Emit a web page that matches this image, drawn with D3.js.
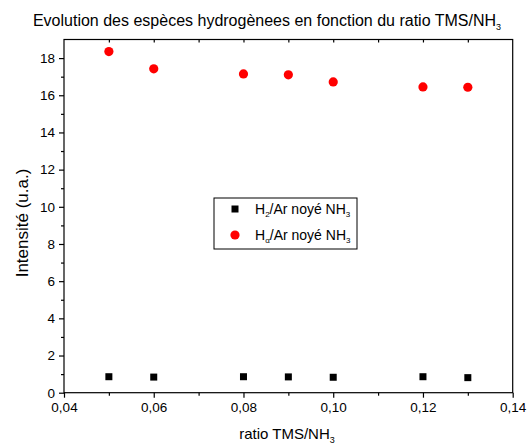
<!DOCTYPE html>
<html><head><meta charset="utf-8">
<script src="https://cdn.jsdelivr.net/npm/d3@7"></script>
<style>body{margin:0;background:#fff}svg{display:block;font-family:"Liberation Sans",Arial,sans-serif}</style>
</head><body>
<svg id="c" width="527" height="445"></svg>
<script>
const ratios = [0.05, 0.06, 0.08, 0.09, 0.10, 0.12, 0.13];
const h2Values = [0.86, 0.84, 0.86, 0.85, 0.83, 0.86, 0.81];
const halphaValues = [18.35, 17.42, 17.15, 17.1, 16.72, 16.45, 16.43];
const xTicks = [0.04, 0.06, 0.08, 0.10, 0.12, 0.14];
const yTicks = [0, 2, 4, 6, 8, 10, 12, 14, 16, 18];

const svg = d3.select("#c");
const m = {l: 64, r: 14.3, t: 39.5, b: 52.3};
const W = 527, H = 445;
const x = d3.scaleLinear().domain([0.04, 0.14]).range([m.l, W - m.r]);
const y = d3.scaleLinear().domain([0, 19]).range([H - m.b, m.t]);
const fmt = d => d3.format(".2f")(d).replace(".", ",");

// frame
svg.append("rect").attr("x", x(0.04)).attr("y", y(19)).attr("width", x(0.14) - x(0.04)).attr("height", y(0) - y(19))
  .attr("fill", "none").attr("stroke", "#000").attr("stroke-width", 1.2);

// bottom axis
const gx = svg.append("g").attr("transform", `translate(0,${y(0)})`)
  .call(d3.axisBottom(x).tickValues(xTicks).tickFormat(fmt).tickSize(5).tickPadding(5));
gx.select(".domain").remove();
gx.selectAll("text").attr("font-size", 13.5).attr("font-family", "Liberation Sans, Arial");
svg.append("g").attr("transform", `translate(0,${y(0)})`)
  .call(d3.axisBottom(x).tickValues(d3.range(0.05, 0.14, 0.02)).tickFormat("").tickSize(3))
  .select(".domain").remove();
// top inner ticks
svg.append("g").attr("transform", `translate(0,${y(19)})`)
  .call(d3.axisBottom(x).tickValues(d3.range(0.05, 0.135, 0.01)).tickFormat("").tickSize(3))
  .select(".domain").remove();

// left axis
const gy = svg.append("g").attr("transform", `translate(${x(0.04)},0)`)
  .call(d3.axisLeft(y).tickValues(yTicks).tickFormat(d3.format("d")).tickSize(5).tickPadding(4));
gy.select(".domain").remove();
gy.selectAll("text").attr("font-size", 13.5).attr("font-family", "Liberation Sans, Arial");
svg.append("g").attr("transform", `translate(${x(0.04)},0)`)
  .call(d3.axisLeft(y).tickValues(d3.range(1, 19, 2)).tickFormat("").tickSize(3))
  .select(".domain").remove();
svg.selectAll(".tick line").attr("stroke", "#000").attr("stroke-width", 1.2);

// data
svg.append("g").selectAll("rect").data(ratios).join("rect")
  .attr("x", (d) => x(d) - 3.5).attr("y", (d, i) => y(h2Values[i]) - 3.5)
  .attr("width", 7).attr("height", 7).attr("fill", "#000");
svg.append("g").selectAll("circle").data(ratios).join("circle")
  .attr("cx", d => x(d)).attr("cy", (d, i) => y(halphaValues[i])).attr("r", 4.6).attr("fill", "#ff0000");

// legend
const lg = svg.append("g");
lg.append("rect").attr("x", 214).attr("y", 198).attr("width", 143).attr("height", 51)
  .attr("fill", "#fff").attr("stroke", "#000").attr("stroke-width", 1);
lg.append("rect").attr("x", 231.5).attr("y", 205.5).attr("width", 7).attr("height", 7).attr("fill", "#000");
lg.append("circle").attr("cx", 235).attr("cy", 235).attr("r", 4.6).attr("fill", "#ff0000");
const t1 = lg.append("text").attr("x", 255).attr("y", 214).attr("font-size", 14);
t1.append("tspan").text("H");
t1.append("tspan").attr("font-size", 8).attr("dy", 3).text("2");
t1.append("tspan").attr("dy", -3).text("/Ar noyé NH");
t1.append("tspan").attr("font-size", 8).attr("dy", 3).text("3");
const t2 = lg.append("text").attr("x", 255).attr("y", 240).attr("font-size", 14);
t2.append("tspan").text("H");
t2.append("tspan").attr("font-size", 8).attr("dy", 3).text("α");
t2.append("tspan").attr("dy", -3).text("/Ar noyé NH");
t2.append("tspan").attr("font-size", 8).attr("dy", 3).text("3");

// title
const tt = svg.append("text").attr("x", 267).attr("y", 26).attr("text-anchor", "middle").attr("font-size", 16);
tt.append("tspan").text("Evolution des espèces hydrogènees en fonction du ratio TMS/NH");
tt.append("tspan").attr("font-size", 9).attr("dy", 4).text("3");

// axis titles
const xt = svg.append("text").attr("x", 287).attr("y", 439).attr("text-anchor", "middle").attr("font-size", 15);
xt.append("tspan").text("ratio TMS/NH");
xt.append("tspan").attr("font-size", 9).attr("dy", 4).text("3");
svg.append("text").attr("transform", "translate(28,223) rotate(-90)").attr("text-anchor", "middle")
  .attr("font-size", 17).text("Intensité (u.a.)");
</script>
</body></html>
